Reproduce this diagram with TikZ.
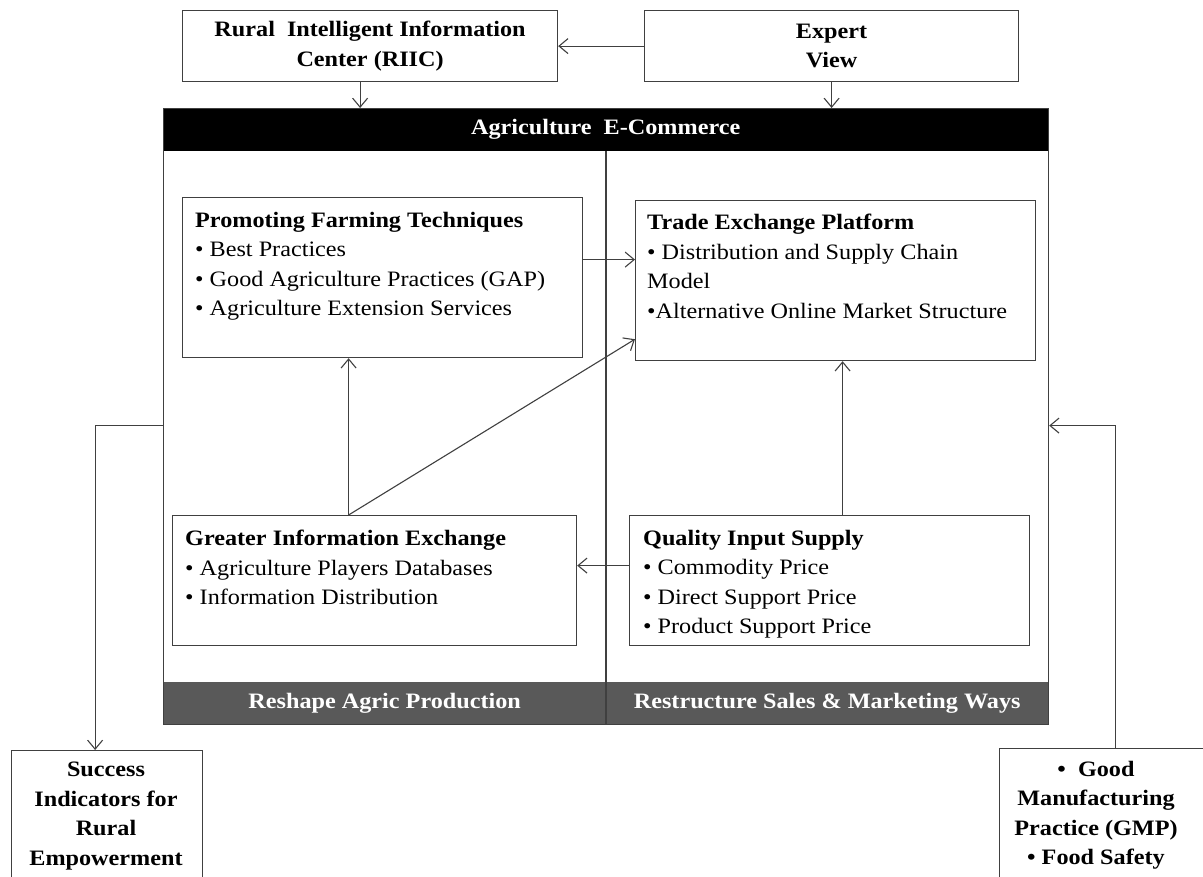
\documentclass[tikz,border=0pt]{standalone}
\usepackage{fontspec}
\setmainfont{Liberation Serif}[FakeStretch=1.1]
\usetikzlibrary{arrows.meta,positioning}
\definecolor{linegray}{HTML}{404040}
\definecolor{bargray}{HTML}{595959}
\tikzstyle{box}=[draw=linegray,line width=1.2pt,rectangle,inner sep=0pt,anchor=north west]
\tikzstyle{bar}=[rectangle,inner sep=0pt,anchor=north west,text=white,font=\bfseries\fontsize{22}{26}\selectfont]
\tikzstyle{boxtext}=[inner sep=0pt,anchor=north west,align=left,font=\fontsize{22}{29.5}\selectfont]
\tikzstyle{titletext}=[inner sep=0pt,align=center,font=\bfseries\fontsize{22}{29.5}\selectfont]
\tikzstyle{link}=[draw=linegray,line width=1.1pt,-{Straight Barb[length=9pt,width=15pt]}]

\begin{document}
\begin{tikzpicture}[x=1pt,y=-1pt]
    \path[use as bounding box,fill=white] (0,0) rectangle (1203,877);

    % top sources
    \node[box,titletext,minimum width=375pt,minimum height=71pt] (riic) at (182,10) {Rural~ Intelligent Information\\Center (RIIC)};
    \node[box,titletext,minimum width=374pt,minimum height=71pt] (expert) at (644,10) {Expert\\View};

    % e-commerce frame with its bars
    \node[bar,fill=black,minimum width=885pt,minimum height=43pt] (header) at (163,108) {Agriculture~ E-Commerce};
    \node[bar,fill=bargray,minimum width=443pt,minimum height=42pt] (footL) at (163,682) {Reshape Agric Production};
    \node[bar,fill=bargray,minimum width=442pt,minimum height=42pt] (footR) at (606,682) {Restructure Sales \& Marketing Ways};
    \node[box,minimum width=885pt,minimum height=616pt] (frame) at (163,108) {};
    \draw[draw=linegray,line width=1.2pt] (header.south -| footR.west) -- (footR.south west);

    % inner boxes
    \node[box,minimum width=400pt,minimum height=160pt] (promo) at (182,197) {};
    \node[box,minimum width=400pt,minimum height=160pt] (trade) at (635,200) {};
    \node[box,minimum width=404pt,minimum height=130pt] (greater) at (172,515) {};
    \node[box,minimum width=400pt,minimum height=130pt] (quality) at (629,515) {};

    \node[boxtext,below right=15pt and 13pt of promo.north west] (promotext)
        {\textbf{Promoting Farming Techniques}\\• Best Practices\\• Good Agriculture Practices (GAP)\\• Agriculture Extension Services};
    \node[boxtext,below right=14pt and 12pt of trade.north west] (tradetext)
        {\textbf{Trade Exchange Platform}\\• Distribution and Supply Chain\\Model\\•Alternative Online Market Structure};
    \node[boxtext,below right=15pt and 13pt of greater.north west] (greatertext)
        {\textbf{Greater Information Exchange}\\• Agriculture Players Databases\\• Information Distribution};
    \node[boxtext,below right=15pt and 14pt of quality.north west] (qualitytext)
        {\textbf{Quality Input Supply}\\• Commodity Price\\• Direct Support Price\\• Product Support Price};

    % outcome boxes (cut by the lower edge)
    \node[box,minimum width=191pt,minimum height=140pt] (success) at (11,750) {};
    \node[box,minimum width=220pt,minimum height=140pt] (gmp) at (999,748) {};
    \node[titletext] (successtext) at (106,816) {Success\\Indicators for\\Rural\\Empowerment};
    \node[titletext] (gmptext) at (1096,815) {•~ Good\\Manufacturing\\Practice (GMP)\\• Food Safety};

    % connectors
    \draw[link] (expert.west) -- (riic.east);
    \draw[link] ([xshift=-10pt]riic.south) -- ([xshift=-10pt]riic.south |- header.north);
    \draw[link] (expert.south) -- (expert.south |- header.north);
    \draw[link] ([yshift=18pt]promo.east) -- ([yshift=18pt]promo.east -| trade.west);
    \coordinate (gtop) at ([xshift=-26pt]greater.north);
    \draw[link] (gtop) -- (gtop |- promo.south);
    \draw[link] (gtop) -- ([yshift=22pt]trade.south west);
    \coordinate (qtop) at ([xshift=13pt]quality.north);
    \draw[link] (qtop) -- (qtop |- trade.south);
    \draw[link] ([yshift=15pt]quality.west) -- ([yshift=15pt]quality.west -| greater.east);
    \draw[link] ([yshift=-9pt]frame.west) -| ([xshift=-12pt]success.north);
    \draw[link] ([xshift=6pt]gmp.north) |- ([yshift=-9pt]frame.east);
\end{tikzpicture}
\end{document}
